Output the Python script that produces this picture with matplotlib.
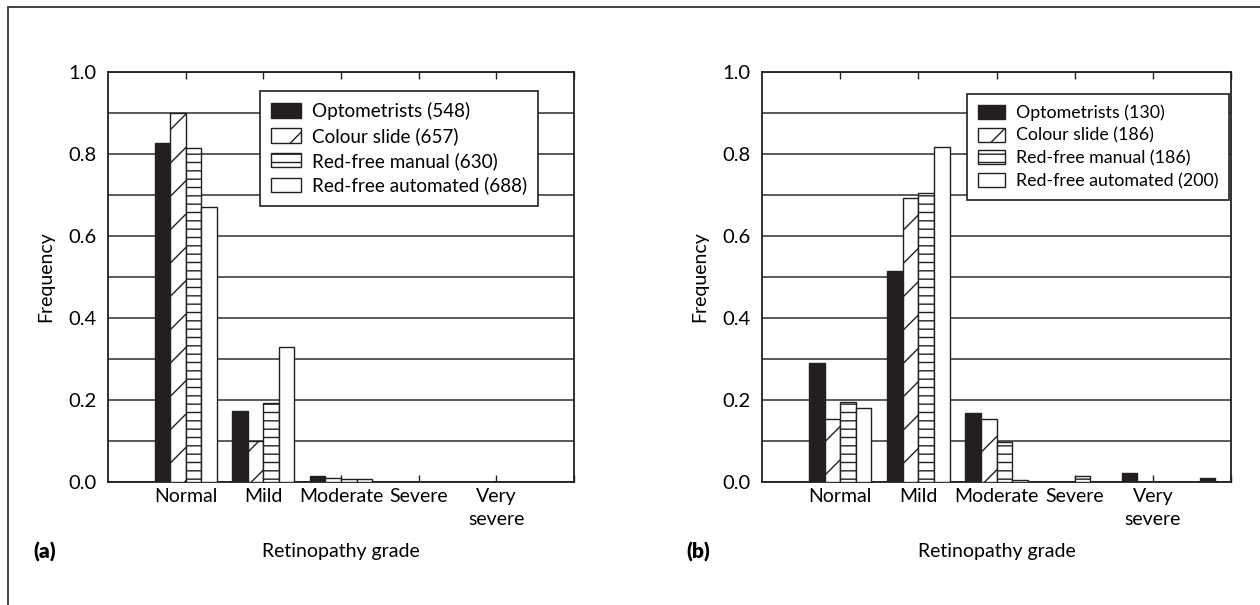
import matplotlib
matplotlib.use("Agg")
import matplotlib.pyplot as plt
import matplotlib.patches as mpatches
import numpy as np

# ── Data ──────────────────────────────────────────────────────────────────────

GRADES = ["Normal", "Mild", "Moderate", "Severe", "Very\nsevere", ""]

SERIES = ["Optometrists", "Colour slide", "Red-free manual", "Red-free automated"]
N_A = [548, 657, 630, 688]
N_B = [130, 186, 186, 200]

# panel (a)
OPT_A  = [0.826, 0.173, 0.015, 0.0, 0.0, 0.0]
COL_A  = [0.900, 0.100, 0.009, 0.0, 0.0, 0.0]
MAN_A  = [0.814, 0.193, 0.008, 0.0, 0.0, 0.0]
AUTO_A = [0.671, 0.330, 0.007, 0.0, 0.0, 0.0]

# panel (b)
OPT_B  = [0.291, 0.515, 0.169, 0.0,   0.021, 0.010]
COL_B  = [0.154, 0.693, 0.154, 0.0,   0.0,   0.0]
MAN_B  = [0.194, 0.704, 0.098, 0.015, 0.0,   0.0]
AUTO_B = [0.180, 0.818, 0.005, 0.0,   0.0,   0.0]

YTICKS = [0.0, 0.2, 0.4, 0.6, 0.8, 1.0]

# ── Style ─────────────────────────────────────────────────────────────────────

FONT = "Lato"
INK = "#231f20"
GRID = "#4d4d4d"
FACES = [INK, "white", "white", "white"]
HATCHES = [None, "/", "--", None]
FS = 14

plt.rcParams["font.family"] = [FONT, "DejaVu Sans"]
plt.rcParams["hatch.linewidth"] = 1.0
plt.rcParams["hatch.color"] = INK

W, H = 1260, 605
fig = plt.figure(figsize=(W / 100, H / 100), dpi=100)
fig.patch.set_facecolor("white")

# outer frame, runs off right and bottom edge
fig.patches.append(mpatches.Rectangle((8 / W, -0.1), 1.2, 1.1 - 7 / H,
                                      transform=fig.transFigure, fill=False,
                                      edgecolor="#333333", linewidth=1.3))

ax_a = fig.add_axes([108 / W, 1 - 482 / H, 466 / W, 410 / H])
ax_b = fig.add_axes([762 / W, 1 - 482 / H, 469 / W, 410 / H])


def draw_panel(ax, data, counts, leg_anchor, leg_size, letter):
    x = np.arange(1, len(GRADES) + 1)
    bw = 0.2
    for k, vals in enumerate(data):
        ax.bar(x - 0.3 + k * bw, vals, width=bw, color=FACES[k],
               hatch=HATCHES[k], edgecolor=INK, linewidth=1.0, zorder=3,
               label=f"{SERIES[k]} ({counts[k]})")

    ax.set_xlim(0, 6)
    ax.set_ylim(0, 1.0)
    ax.set_yticks(YTICKS)
    ax.set_yticklabels([f"{v:.1f}" for v in YTICKS], fontsize=FS + 0.5)
    ax.set_yticks(np.arange(0.1, 1.0, 0.1), minor=True)
    ax.yaxis.grid(True, which="both", color=GRID, linewidth=1.3, zorder=0)
    ax.set_axisbelow(True)
    ax.tick_params(axis="y", which="both", length=0, pad=8)

    ax.set_xticks(x)
    ax.set_xticklabels(GRADES, fontsize=FS, linespacing=1.45)
    ax.tick_params(axis="x", direction="in", length=5, width=1.0,
                   top=True, bottom=True, pad=4, color=INK)

    for s in ax.spines.values():
        s.set_linewidth(1.3)
        s.set_color(INK)

    ax.set_ylabel("Frequency", fontsize=FS, va="center")
    ax.yaxis.set_label_coords(-62 / 466, 0.5)
    ax.set_xlabel("Retinopathy grade", fontsize=FS, va="center")
    ax.xaxis.set_label_coords(0.5, -70 / 410)

    leg = ax.legend(loc="upper left", bbox_to_anchor=leg_anchor,
                    borderaxespad=0, fontsize=leg_size, fancybox=False,
                    framealpha=1, edgecolor=INK, handlelength=1.55,
                    handleheight=0.8, handletextpad=0.6, labelspacing=0.36,
                    borderpad=0.6)
    leg.get_frame().set_linewidth(1.2)
    leg.set_zorder(5)

    ax.text(-75 / 466, -70 / 410, letter, transform=ax.transAxes,
            fontsize=15, fontweight="heavy", va="center", ha="left")


draw_panel(ax_a, [OPT_A, COL_A, MAN_A, AUTO_A], N_A, (0.326, 0.954), 13.6, "(a)")
draw_panel(ax_b, [OPT_B, COL_B, MAN_B, AUTO_B], N_B, (0.437, 0.946), 12.8, "(b)")

fig.savefig("out.png", dpi=100, facecolor="white")
